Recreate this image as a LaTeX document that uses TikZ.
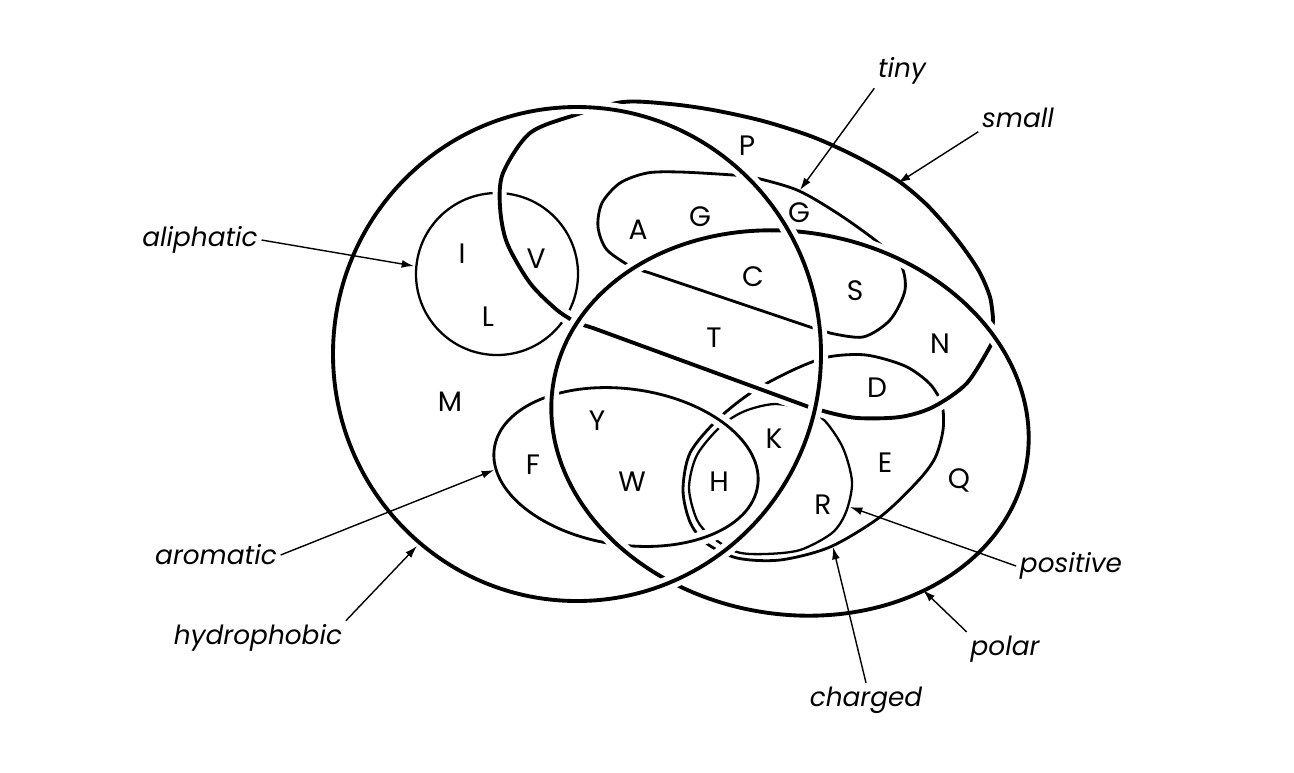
\documentclass[tikz,border=0pt]{standalone}
\usepackage{fontspec}
\setmainfont{Poppins}
\usetikzlibrary{arrows.meta}

\begin{document}
\begin{tikzpicture}[x=0.02cm,y=-0.02cm,
  bigset/.style={line width=2.2pt},
  subset/.style={line width=1.6pt},
  thinset/.style={line width=1.3pt},
  over/.style={preaction={draw=white,line width=8pt}},
  letter/.style={font=\fontsize{16}{16}\selectfont},
  lbl/.style={font=\fontsize{15}{15}\selectfont\itshape,inner sep=2pt},
  arrow/.style={-{Latex[length=7pt,width=4.5pt]},line width=0.8pt}]
  \useasboundingbox (0,0) rectangle (1294,772);

  \draw[thinset] plot[smooth cycle] coordinates {(689,488) (697,455) (721,426) (745,411) (775,404) (807,410) (825,421) (843,448) (852,482) (846,512) (832,533) (800,550) (765,554) (737,552) (712,537) (697,520)};
  \draw[subset] plot[smooth cycle] coordinates {(683,490) (690,453) (717,420) (752,392) (793,370) (828,357) (866,355) (905,366) (930,384) (942,405) (943,430) (935,458) (917,482) (880,517) (830,547) (780,560) (737,558) (706,543) (690,522)};
  \draw[thinset] (497,274) circle[radius=81];
  \draw[subset] (650,273) -- (810,327) -- plot[smooth] coordinates {(830,333) (863,337) (890,320) (905,290) (900,263) (875,240) (837,213) (797,190) (752,177) (733,175) (680,172) (647,173) (620,183) (602,203) (598,227) (607,250) (633,268)} -- cycle;
  \draw[subset,over,rotate around={-8:(626,467)}] (626,467) ellipse[x radius=133, y radius=78];
  \draw[bigset,over] (809,407) -- (593,328) -- plot[smooth] coordinates {(577,323) (557,310) (530,283) (507,243) (500,207) (503,173) (530,133) (575,115) (623,102) (670,104) (713,110) (763,121) (813,137) (857,157) (897,180) (925,203) (947,227) (965,250) (980,273) (990,297) (993,318)} -- plot[smooth] coordinates {(992,343) (967,383) (933,407) (900,417) (857,418) (827,412)} -- cycle;
  \draw[bigset,over,rotate around={-10:(790,423)}] (790,423) ellipse[x radius=240, y radius=191];
  \draw[bigset,over] (577,354) ellipse[x radius=244, y radius=247];

  \node[letter] (P) at (747,146) {P};
  \node[letter] (A) at (638,230) {A};
  \node[letter] (G1) at (700,217) {G};
  \node[letter] (G2) at (799,213) {G};
  \node[letter] (I) at (462,254) {I};
  \node[letter] (V) at (536,259) {V};
  \node[letter] (L) at (488,317) {L};
  \node[letter] (C) at (753,277) {C};
  \node[letter] (S) at (855,291) {S};
  \node[letter] (T) at (714,338) {T};
  \node[letter] (N) at (940,344) {N};
  \node[letter] (M) at (450,402) {M};
  \node[letter] (D) at (877,388) {D};
  \node[letter] (Y) at (597,421) {Y};
  \node[letter] (K) at (774,439) {K};
  \node[letter] (E) at (885,463) {E};
  \node[letter] (F) at (533,465) {F};
  \node[letter] (W) at (632,482) {W};
  \node[letter] (H) at (719,482) {H};
  \node[letter] (Q) at (959,480) {Q};
  \node[letter] (R) at (823,505) {R};

  \node[lbl] (tiny) at (902,71) {tiny};
  \node[lbl] (small) at (1018,118) {small};
  \node[lbl] (aliphatic) at (200,240) {aliphatic};
  \node[lbl] (aromatic) at (216,555) {aromatic};
  \node[lbl] (hydrophobic) at (258,638) {hydrophobic};
  \node[lbl] (positive) at (1071,566) {positive};
  \node[lbl] (polar) at (1005,649) {polar};
  \node[lbl] (charged) at (866,700) {charged};

  \coordinate (tiny end) at (800,190);
  \coordinate (small end) at (898,183);
  \coordinate (aliphatic end) at (414,266);
  \coordinate (aromatic end) at (494,470);
  \coordinate (hydrophobic end) at (417,546);
  \coordinate (positive end) at (850,507);
  \coordinate (polar end) at (923,590);
  \coordinate (charged end) at (833,547);

  \draw[arrow] (tiny.south west) -- (tiny end);
  \draw[arrow] (small.south west) -- (small end);
  \draw[arrow] (aliphatic.east) -- (aliphatic end);
  \draw[arrow] (aromatic.east) -- (aromatic end);
  \draw[arrow] (hydrophobic.north east) -- (hydrophobic end);
  \draw[arrow] (positive.west) -- (positive end);
  \draw[arrow] (polar.north west) -- (polar end);
  \draw[arrow] (charged.north) -- (charged end);
\end{tikzpicture}
\end{document}
